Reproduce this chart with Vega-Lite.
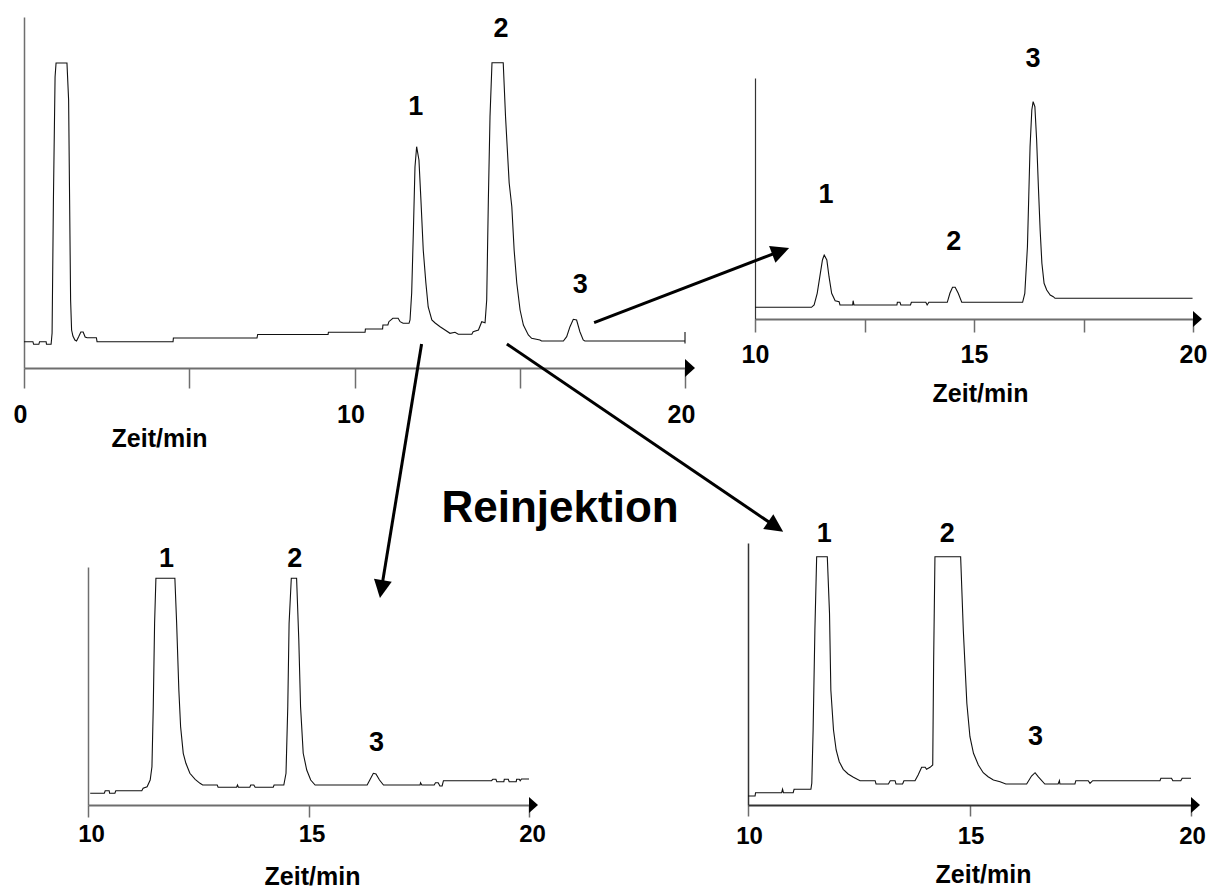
{
  "$schema": "https://vega.github.io/schema/vega-lite/v6.json",
  "width": 1210,
  "height": 888,
  "autosize": {"type": "none"},
  "padding": 0,
  "background": "white",
  "config": {"view": {"stroke": null}, "font": "Liberation Sans"},
  "datasets": {
    "main": [
      {"t":0,"s":26.3},{"t":0.27,"s":26.3},{"t":0.29,"s":23.7},{"t":0.45,"s":23.7},{"t":0.47,"s":26.3},{"t":0.67,"s":26.3},{"t":0.68,"s":23.7},{"t":0.82,"s":23.7},{"t":0.85,"s":35},{"t":0.89,"s":168},{"t":0.94,"s":291},{"t":0.97,"s":305},{"t":1.30,"s":305},{"t":1.35,"s":268},{"t":1.38,"s":168},{"t":1.41,"s":68},{"t":1.44,"s":38},{"t":1.48,"s":32},{"t":1.54,"s":28},{"t":1.59,"s":27},{"t":1.65,"s":31},{"t":1.72,"s":36},{"t":1.79,"s":36},{"t":1.85,"s":31},{"t":1.91,"s":30.3},{"t":2.19,"s":30.3},{"t":2.21,"s":26.3},{"t":4.51,"s":26.3},{"t":4.52,"s":30},{"t":7.05,"s":30},{"t":7.07,"s":33.5},{"t":9.20,"s":33.5},{"t":9.21,"s":35.7},{"t":10.32,"s":35.7},{"t":10.33,"s":39},{"t":10.85,"s":39},{"t":10.86,"s":43},{"t":11.01,"s":43},{"t":11.04,"s":46.3},{"t":11.16,"s":49.7},{"t":11.32,"s":49.7},{"t":11.38,"s":46.3},{"t":11.47,"s":44.7},{"t":11.65,"s":44.7},{"t":11.68,"s":48},{"t":11.73,"s":75},{"t":11.78,"s":135},{"t":11.83,"s":201},{"t":11.88,"s":221.3},{"t":11.95,"s":208},{"t":12.01,"s":168},{"t":12.08,"s":118},{"t":12.16,"s":85},{"t":12.23,"s":61},{"t":12.34,"s":48},{"t":12.44,"s":45},{"t":12.59,"s":41.3},{"t":12.74,"s":38},{"t":12.89,"s":34.7},{"t":13.04,"s":35.7},{"t":13.14,"s":33.7},{"t":13.55,"s":33.7},{"t":13.59,"s":36.3},{"t":13.75,"s":38},{"t":13.85,"s":46.3},{"t":13.95,"s":45.3},{"t":14.00,"s":68},{"t":14.05,"s":168},{"t":14.10,"s":251.3},{"t":14.16,"s":305.3},{"t":14.50,"s":305.3},{"t":14.57,"s":251.3},{"t":14.68,"s":185},{"t":14.76,"s":161.3},{"t":14.83,"s":118},{"t":14.91,"s":85},{"t":15.01,"s":58},{"t":15.11,"s":43},{"t":15.26,"s":33},{"t":15.36,"s":29.7},{"t":15.61,"s":28},{"t":15.66,"s":27},{"t":16.32,"s":27},{"t":16.42,"s":31.3},{"t":16.52,"s":41.3},{"t":16.62,"s":48.7},{"t":16.72,"s":48},{"t":16.82,"s":36.3},{"t":16.92,"s":28},{"t":16.97,"s":27},{"t":20,"s":27},{"t":20,"s":36},{"t":20,"s":24.5}
    ],
    "mainLab": [
      {"t":11.85,"s":253,"label":"1"},{"t":14.43,"s":331.3,"label":"2"},{"t":16.83,"s":74.7,"label":"3"}
    ],
    "arrows": [
      {"t":17.25,"s":45.3,"t2":22.86,"s2":116.5},
      {"t":12.03,"s":24,"t2":10.82,"s2":-220.1},
      {"t":14.61,"s":24,"t2":22.72,"s2":-158.1}
    ],
    "tr": [
      {"t":10.0,"s":11.7},{"t":11.29,"s":11.7},{"t":11.35,"s":14},{"t":11.42,"s":25.7},{"t":11.48,"s":42.3},{"t":11.54,"s":59},{"t":11.58,"s":64},{"t":11.64,"s":59},{"t":11.69,"s":42.3},{"t":11.75,"s":25.7},{"t":11.83,"s":18.3},{"t":11.92,"s":17.3},{"t":11.94,"s":14},{"t":12.23,"s":14},{"t":12.24,"s":18.3},{"t":12.26,"s":14},{"t":13.24,"s":14},{"t":13.25,"s":16.7},{"t":13.31,"s":16.7},{"t":13.33,"s":14},{"t":13.55,"s":14},{"t":13.57,"s":16.7},{"t":13.90,"s":16.7},{"t":13.93,"s":14},{"t":13.97,"s":16.7},{"t":14.39,"s":16.7},{"t":14.45,"s":25.7},{"t":14.51,"s":31.7},{"t":14.57,"s":31.7},{"t":14.64,"s":25.7},{"t":14.72,"s":16.7},{"t":16.11,"s":16.7},{"t":16.16,"s":25.7},{"t":16.22,"s":72.3},{"t":16.25,"s":122.3},{"t":16.28,"s":172.3},{"t":16.32,"s":209},{"t":16.35,"s":217.3},{"t":16.39,"s":212.3},{"t":16.43,"s":179},{"t":16.47,"s":132.3},{"t":16.51,"s":89},{"t":16.55,"s":55.7},{"t":16.60,"s":35.7},{"t":16.66,"s":29},{"t":16.74,"s":24},{"t":16.81,"s":22.3},{"t":16.85,"s":20.7},{"t":19.99,"s":20.7}
    ],
    "trLab": [
      {"t":11.62,"s":115.7,"label":"1"},{"t":14.54,"s":69,"label":"2"},{"t":16.35,"s":252.3,"label":"3"}
    ],
    "bl": [
      {"t":10.05,"s":11.7},{"t":10.37,"s":11.7},{"t":10.39,"s":14.3},{"t":10.48,"s":14.3},{"t":10.49,"s":11.7},{"t":10.61,"s":11.7},{"t":10.63,"s":14.3},{"t":11.22,"s":14.3},{"t":11.25,"s":16.7},{"t":11.34,"s":18.3},{"t":11.41,"s":25},{"t":11.45,"s":38.3},{"t":11.48,"s":98.3},{"t":11.51,"s":181.7},{"t":11.54,"s":226.7},{"t":11.97,"s":226.7},{"t":12.01,"s":181.7},{"t":12.06,"s":115},{"t":12.10,"s":78.3},{"t":12.16,"s":51.7},{"t":12.22,"s":41.7},{"t":12.31,"s":31.7},{"t":12.43,"s":25.7},{"t":12.54,"s":21.7},{"t":12.60,"s":20},{"t":12.93,"s":20},{"t":12.95,"s":17.7},{"t":13.37,"s":17.7},{"t":13.39,"s":20},{"t":13.41,"s":17.7},{"t":13.67,"s":17.7},{"t":13.69,"s":20},{"t":13.76,"s":20},{"t":13.79,"s":17.7},{"t":14.20,"s":17.7},{"t":14.22,"s":20},{"t":14.44,"s":20},{"t":14.49,"s":31.7},{"t":14.53,"s":98.3},{"t":14.56,"s":181.7},{"t":14.61,"s":226.7},{"t":14.73,"s":226.7},{"t":14.78,"s":165},{"t":14.82,"s":98.3},{"t":14.88,"s":51.7},{"t":14.96,"s":35},{"t":15.05,"s":25},{"t":15.15,"s":20},{"t":16.33,"s":20},{"t":16.39,"s":25},{"t":16.47,"s":31.7},{"t":16.53,"s":31},{"t":16.61,"s":25},{"t":16.70,"s":20},{"t":17.53,"s":20},{"t":17.54,"s":22.3},{"t":17.57,"s":20},{"t":17.85,"s":20},{"t":17.88,"s":22.3},{"t":17.94,"s":22.3},{"t":17.98,"s":19},{"t":18.03,"s":19},{"t":18.06,"s":24.3},{"t":19.15,"s":24.3},{"t":19.18,"s":25.7},{"t":19.25,"s":25.7},{"t":19.27,"s":23.3},{"t":19.43,"s":23.3},{"t":19.44,"s":25.7},{"t":19.53,"s":25.7},{"t":19.55,"s":23.3},{"t":19.71,"s":23.3},{"t":19.72,"s":25.7},{"t":19.78,"s":25.7},{"t":19.80,"s":24.3},{"t":19.83,"s":26},{"t":20.0,"s":26}
    ],
    "blLab": [
      {"t":11.78,"s":238.3,"label":"1"},{"t":14.69,"s":238.3,"label":"2"},{"t":16.54,"s":54.3,"label":"3"}
    ],
    "br": [
      {"t":10.0,"s":9},{"t":10.16,"s":9},{"t":10.17,"s":12.3},{"t":10.76,"s":12.3},{"t":10.78,"s":15.7},{"t":10.80,"s":12.3},{"t":11.02,"s":12.3},{"t":11.04,"s":15.7},{"t":11.42,"s":15.7},{"t":11.44,"s":21.7},{"t":11.47,"s":75},{"t":11.51,"s":175},{"t":11.55,"s":248.3},{"t":11.79,"s":248.3},{"t":11.84,"s":191.7},{"t":11.87,"s":115},{"t":11.93,"s":75},{"t":11.99,"s":55},{"t":12.06,"s":43.3},{"t":12.15,"s":35.7},{"t":12.26,"s":31},{"t":12.38,"s":27.7},{"t":12.53,"s":24.3},{"t":12.87,"s":24.3},{"t":12.89,"s":21},{"t":13.17,"s":21},{"t":13.21,"s":24.3},{"t":13.32,"s":24.3},{"t":13.34,"s":21},{"t":13.49,"s":21},{"t":13.52,"s":24.3},{"t":13.77,"s":24.3},{"t":13.84,"s":30},{"t":13.92,"s":37.7},{"t":14.00,"s":37.7},{"t":14.03,"s":35.7},{"t":14.11,"s":37.7},{"t":14.17,"s":40},{"t":14.19,"s":141.7},{"t":14.22,"s":248.3},{"t":14.80,"s":248.3},{"t":14.86,"s":175},{"t":14.94,"s":101.7},{"t":15.01,"s":68.3},{"t":15.09,"s":51.7},{"t":15.20,"s":40},{"t":15.31,"s":32.3},{"t":15.42,"s":28.3},{"t":15.54,"s":25},{"t":15.69,"s":23.3},{"t":15.82,"s":21},{"t":16.29,"s":21},{"t":16.40,"s":29},{"t":16.48,"s":32.3},{"t":16.55,"s":28.3},{"t":16.70,"s":21},{"t":17.00,"s":21},{"t":17.03,"s":24.3},{"t":17.04,"s":21},{"t":17.38,"s":21},{"t":17.40,"s":24.3},{"t":17.68,"s":24.3},{"t":17.72,"s":21.7},{"t":17.78,"s":24.3},{"t":19.30,"s":24.3},{"t":19.32,"s":26.7},{"t":19.56,"s":26.7},{"t":19.59,"s":24.3},{"t":19.77,"s":24.3},{"t":19.80,"s":26.7},{"t":20.0,"s":26.7}
    ],
    "brLab": [
      {"t":11.72,"s":263.3,"label":"1"},{"t":14.50,"s":263.3,"label":"2"},{"t":16.49,"s":60,"label":"3"}
    ]
  },
  "layer": [
    {
      "layer": [
        {
          "data": {"name": "main"},
          "mark": {"type": "line", "color": "#111111", "strokeWidth": 1.1},
          "encoding": {
            "x": {"field": "t", "type": "quantitative", "scale": {"domain": [0, 20], "range": [24, 685]},
              "axis": {"orient": "bottom", "offset": -520, "values": [0, 5, 10, 15, 20], "format": "d", "grid": false,
                "tickSize": 20, "tickWidth": 1.5, "tickColor": "#6e6e6e", "domainColor": "#6e6e6e", "domainWidth": 2,
                "labelExpr": "datum.value % 10 === 0 ? datum.label : ''", "labelFlush": false, "labelOverlap": false,
                "labelOffset": -4, "labelPadding": 14, "labelFontSize": 25, "labelFontWeight": "bold", "labelColor": "black",
                "title": "Zeit/min", "titleFontSize": 25, "titleFontWeight": "bold", "titleColor": "black",
                "titleX": 159, "titleY": 70, "titleBaseline": "middle", "titleAlign": "center"}},
            "y": {"field": "s", "type": "quantitative", "scale": {"domain": [0, 351], "range": [368, 17]},
              "axis": {"orient": "left", "offset": -24, "grid": false, "ticks": false, "labels": false, "title": null,
                "domainColor": "#6e6e6e", "domainWidth": 1.5}},
            "order": {"value": null}
          }
        },
        {
          "data": {"name": "mainLab"},
          "mark": {"type": "text", "fontSize": 27, "fontWeight": "bold", "baseline": "alphabetic", "align": "center", "color": "black"},
          "encoding": {
            "x": {"field": "t", "type": "quantitative", "scale": {"domain": [0, 20], "range": [24, 685]}},
            "y": {"field": "s", "type": "quantitative", "scale": {"domain": [0, 351], "range": [368, 17]}},
            "text": {"field": "label"}
          }
        },
        {
          "data": {"values": [{"t": 20, "s": 0}]},
          "mark": {"type": "point", "shape": "M0,-0.9L1,0L0,0.9Z", "filled": true, "color": "black", "opacity": 1, "size": 400, "strokeWidth": 0},
          "encoding": {
            "x": {"field": "t", "type": "quantitative", "scale": {"domain": [0, 20], "range": [24, 685]}},
            "y": {"field": "s", "type": "quantitative", "scale": {"domain": [0, 351], "range": [368, 17]}}
          }
        },
        {
          "data": {"name": "arrows"},
          "mark": {"type": "rule", "color": "black", "strokeWidth": 3},
          "encoding": {
            "x": {"field": "t", "type": "quantitative", "scale": {"domain": [0, 20], "range": [24, 685]}},
            "y": {"field": "s", "type": "quantitative", "scale": {"domain": [0, 351], "range": [368, 17]}},
            "x2": {"field": "t2"},
            "y2": {"field": "s2"}
          }
        },
        {
          "data": {"values": [{"t": 23.15, "s": 120}]},
          "mark": {"type": "point", "shape": "M0,0L-2,-1L-2,1Z", "filled": true, "color": "black", "opacity": 1, "size": 324, "strokeWidth": 0, "angle": 339.3},
          "encoding": {
            "x": {"field": "t", "type": "quantitative", "scale": {"domain": [0, 20], "range": [24, 685]}},
            "y": {"field": "s", "type": "quantitative", "scale": {"domain": [0, 351], "range": [368, 17]}}
          }
        },
        {
          "data": {"values": [{"t": 10.77, "s": -230}]},
          "mark": {"type": "point", "shape": "M0,0L-2,-1L-2,1Z", "filled": true, "color": "black", "opacity": 1, "size": 324, "strokeWidth": 0, "angle": 99.35},
          "encoding": {
            "x": {"field": "t", "type": "quantitative", "scale": {"domain": [0, 20], "range": [24, 685]}},
            "y": {"field": "s", "type": "quantitative", "scale": {"domain": [0, 351], "range": [368, 17]}}
          }
        },
        {
          "data": {"values": [{"t": 22.97, "s": -163.7}]},
          "mark": {"type": "point", "shape": "M0,0L-2,-1L-2,1Z", "filled": true, "color": "black", "opacity": 1, "size": 324, "strokeWidth": 0, "angle": 34.1},
          "encoding": {
            "x": {"field": "t", "type": "quantitative", "scale": {"domain": [0, 20], "range": [24, 685]}},
            "y": {"field": "s", "type": "quantitative", "scale": {"domain": [0, 351], "range": [368, 17]}}
          }
        },
        {
          "data": {"values": [{"t": 16.22, "s": -154, "label": "Reinjektion"}]},
          "mark": {"type": "text", "fontSize": 44, "fontWeight": "bold", "baseline": "alphabetic", "align": "center", "color": "black"},
          "encoding": {
            "x": {"field": "t", "type": "quantitative", "scale": {"domain": [0, 20], "range": [24, 685]}},
            "y": {"field": "s", "type": "quantitative", "scale": {"domain": [0, 351], "range": [368, 17]}},
            "text": {"field": "label"}
          }
        }
      ]
    },
    {
      "layer": [
        {
          "data": {"name": "tr"},
          "mark": {"type": "line", "color": "#111111", "strokeWidth": 1.1},
          "encoding": {
            "x": {"field": "t", "type": "quantitative", "scale": {"domain": [10, 20], "range": [755, 1193]},
              "axis": {"orient": "bottom", "offset": -569, "values": [10, 12.5, 15, 17.5, 20], "format": "d", "grid": false,
                "tickSize": 13, "tickWidth": 1.5, "tickColor": "#6e6e6e", "domainColor": "#6e6e6e", "domainWidth": 2,
                "labelExpr": "datum.value % 5 === 0 ? datum.label : ''", "labelFlush": false, "labelOverlap": false,
                "labelOffset": 0, "labelPadding": 10, "labelFontSize": 25, "labelFontWeight": "bold", "labelColor": "black",
                "title": "Zeit/min", "titleFontSize": 25, "titleFontWeight": "bold", "titleColor": "black",
                "titleX": 980, "titleY": 74, "titleBaseline": "middle", "titleAlign": "center"}},
            "y": {"field": "s", "type": "quantitative", "scale": {"domain": [0, 241], "range": [319, 78]},
              "axis": {"orient": "left", "offset": -755, "grid": false, "ticks": false, "labels": false, "title": null,
                "domainColor": "#333333", "domainWidth": 1.2}},
            "order": {"value": null}
          }
        },
        {
          "data": {"name": "trLab"},
          "mark": {"type": "text", "fontSize": 27, "fontWeight": "bold", "baseline": "alphabetic", "align": "center", "color": "black"},
          "encoding": {
            "x": {"field": "t", "type": "quantitative", "scale": {"domain": [10, 20], "range": [755, 1193]}},
            "y": {"field": "s", "type": "quantitative", "scale": {"domain": [0, 241], "range": [319, 78]}},
            "text": {"field": "label"}
          }
        },
        {
          "data": {"values": [{"t": 20, "s": 0}]},
          "mark": {"type": "point", "shape": "M0,-0.9L1,0L0,0.9Z", "filled": true, "color": "black", "opacity": 1, "size": 324, "strokeWidth": 0},
          "encoding": {
            "x": {"field": "t", "type": "quantitative", "scale": {"domain": [10, 20], "range": [755, 1193]}},
            "y": {"field": "s", "type": "quantitative", "scale": {"domain": [0, 241], "range": [319, 78]}}
          }
        }
      ]
    },
    {
      "layer": [
        {
          "data": {"name": "bl"},
          "mark": {"type": "line", "color": "#111111", "strokeWidth": 1.1},
          "encoding": {
            "x": {"field": "t", "type": "quantitative", "scale": {"domain": [10, 20], "range": [88, 529]},
              "axis": {"orient": "bottom", "offset": -83, "values": [10, 15, 20], "format": "d", "grid": false,
                "tickSize": 12, "tickWidth": 1.5, "tickColor": "#6e6e6e", "domainColor": "#6e6e6e", "domainWidth": 2,
                "labelFlush": false, "labelOverlap": false,
                "labelOffset": 3, "labelPadding": 5, "labelFontSize": 24, "labelFontWeight": "bold", "labelColor": "black",
                "title": "Zeit/min", "titleFontSize": 25, "titleFontWeight": "bold", "titleColor": "black",
                "titleX": 312, "titleY": 71, "titleBaseline": "middle", "titleAlign": "center"}},
            "y": {"field": "s", "type": "quantitative", "scale": {"domain": [0, 238], "range": [805, 567]},
              "axis": {"orient": "left", "offset": -88, "grid": false, "ticks": false, "labels": false, "title": null,
                "domainColor": "#6e6e6e", "domainWidth": 1.5}},
            "order": {"value": null}
          }
        },
        {
          "data": {"name": "blLab"},
          "mark": {"type": "text", "fontSize": 27, "fontWeight": "bold", "baseline": "alphabetic", "align": "center", "color": "black"},
          "encoding": {
            "x": {"field": "t", "type": "quantitative", "scale": {"domain": [10, 20], "range": [88, 529]}},
            "y": {"field": "s", "type": "quantitative", "scale": {"domain": [0, 238], "range": [805, 567]}},
            "text": {"field": "label"}
          }
        },
        {
          "data": {"values": [{"t": 20, "s": 0}]},
          "mark": {"type": "point", "shape": "M0,-0.9L1,0L0,0.9Z", "filled": true, "color": "black", "opacity": 1, "size": 324, "strokeWidth": 0},
          "encoding": {
            "x": {"field": "t", "type": "quantitative", "scale": {"domain": [10, 20], "range": [88, 529]}},
            "y": {"field": "s", "type": "quantitative", "scale": {"domain": [0, 238], "range": [805, 567]}}
          }
        }
      ]
    },
    {
      "layer": [
        {
          "data": {"name": "br"},
          "mark": {"type": "line", "color": "#111111", "strokeWidth": 1.1},
          "encoding": {
            "x": {"field": "t", "type": "quantitative", "scale": {"domain": [10, 20], "range": [748, 1191]},
              "axis": {"orient": "bottom", "offset": -83, "values": [10, 15, 20], "format": "d", "grid": false,
                "tickSize": 11, "tickWidth": 1.5, "tickColor": "#6e6e6e", "domainColor": "#333333", "domainWidth": 2,
                "labelFlush": false, "labelOverlap": false,
                "labelOffset": 1, "labelPadding": 8, "labelFontSize": 24, "labelFontWeight": "bold", "labelColor": "black",
                "title": "Zeit/min", "titleFontSize": 25, "titleFontWeight": "bold", "titleColor": "black",
                "titleX": 983, "titleY": 69, "titleBaseline": "middle", "titleAlign": "center"}},
            "y": {"field": "s", "type": "quantitative", "scale": {"domain": [0, 262], "range": [805, 543]},
              "axis": {"orient": "left", "offset": -748, "grid": false, "ticks": false, "labels": false, "title": null,
                "domainColor": "#333333", "domainWidth": 1.5}},
            "order": {"value": null}
          }
        },
        {
          "data": {"name": "brLab"},
          "mark": {"type": "text", "fontSize": 27, "fontWeight": "bold", "baseline": "alphabetic", "align": "center", "color": "black"},
          "encoding": {
            "x": {"field": "t", "type": "quantitative", "scale": {"domain": [10, 20], "range": [748, 1191]}},
            "y": {"field": "s", "type": "quantitative", "scale": {"domain": [0, 262], "range": [805, 543]}},
            "text": {"field": "label"}
          }
        },
        {
          "data": {"values": [{"t": 20, "s": 0}]},
          "mark": {"type": "point", "shape": "M0,-0.9L1,0L0,0.9Z", "filled": true, "color": "black", "opacity": 1, "size": 324, "strokeWidth": 0},
          "encoding": {
            "x": {"field": "t", "type": "quantitative", "scale": {"domain": [10, 20], "range": [748, 1191]}},
            "y": {"field": "s", "type": "quantitative", "scale": {"domain": [0, 262], "range": [805, 543]}}
          }
        }
      ]
    }
  ],
  "resolve": {
    "scale": {"x": "independent", "y": "independent"},
    "axis": {"x": "independent", "y": "independent"}
  }
}
